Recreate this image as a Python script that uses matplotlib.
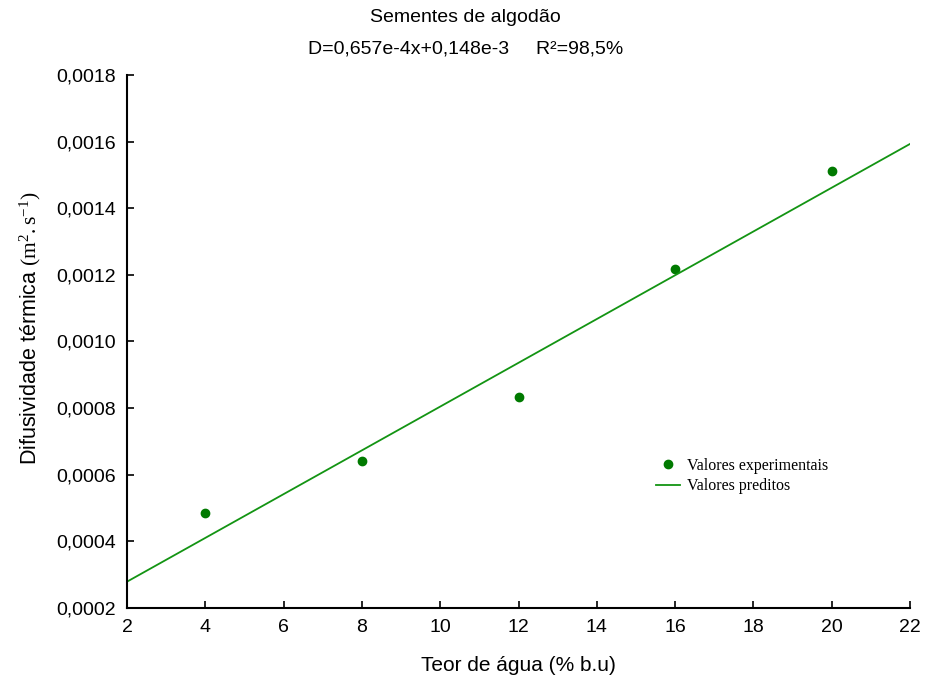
import matplotlib
matplotlib.use("Agg")
import matplotlib.pyplot as plt
from matplotlib.ticker import FuncFormatter

plt.rcParams['font.family'] = ['Liberation Sans', 'DejaVu Sans']
plt.rcParams['mathtext.fontset'] = 'custom'
plt.rcParams['mathtext.rm'] = 'Liberation Serif'
plt.rcParams['mathtext.it'] = 'Liberation Serif:italic'

# dados experimentais
teor = [4, 8, 12, 16, 20]
difus = [0.000485, 0.000641, 0.000834, 0.001218, 0.001512]

# reta ajustada (valores preditos) nos extremos do eixo
pred_x = [2, 22]
pred_y = [0.000279, 0.001593]

xticks = [2, 4, 6, 8, 10, 12, 14, 16, 18, 20, 22]
yticks = [0.0002, 0.0004, 0.0006, 0.0008, 0.0010, 0.0012, 0.0014, 0.0016, 0.0018]

fig = plt.figure(figsize=(9.25, 6.84), dpi=100)
ax = fig.add_axes([0.1373, 0.1111, 0.8465, 0.7793])

ax.plot(teor, difus, 'o', color='#007a00', markersize=6, label='Valores experimentais')
ax.plot(pred_x, pred_y, '-', color='#139413', linewidth=1.3, label='Valores preditos')

ax.set_xlim(2, 22)
ax.set_ylim(0.0002, 0.0018)
ax.set_xticks(xticks)
ax.set_yticks(yticks)
ax.yaxis.set_major_formatter(FuncFormatter(lambda v, p: ('%.4f' % v).replace('.', ',')))
ax.tick_params(direction='in', length=5, width=1.2, labelsize=14, pad=8)

ax.spines['top'].set_visible(False)
ax.spines['right'].set_visible(False)
ax.spines['left'].set_linewidth(1.5)
ax.spines['bottom'].set_linewidth(1.5)

ax.set_xlabel('Teor de água (% b.u)', fontsize=15)
ax.xaxis.set_label_coords(0.5, -0.09)
ax.set_ylabel('Difusividade térmica $\\mathrm{(m^2.s^{-1})}$', fontsize=15.5)
ax.yaxis.set_label_coords(-0.107, 0.525)

fig.text(0.503, 0.974, 'Sementes de algodão', ha='center', va='center', fontsize=14)
fig.text(0.503, 0.928, 'D=0,657e-4x+0,148e-3     R²=98,5%', ha='center', va='center', fontsize=14)

ax.legend(loc='upper left', bbox_to_anchor=(0.657, 0.309), frameon=False,
          prop={'family': 'Liberation Serif', 'size': 11.5},
          handlelength=1.5, handletextpad=0.45, labelspacing=0.3)

fig.savefig('out.png', dpi=100)
